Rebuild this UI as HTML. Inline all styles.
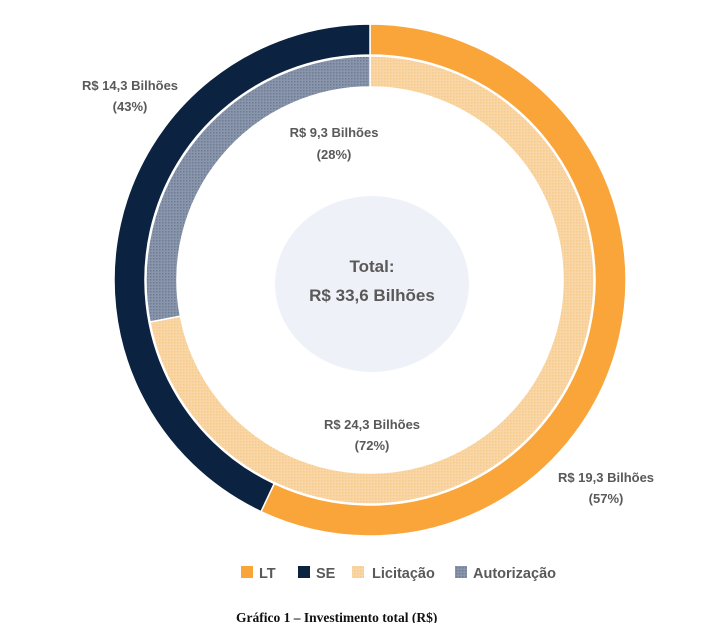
<!DOCTYPE html>
<html><head><meta charset="utf-8"><style>
body{margin:0;background:#fff;width:706px;height:623px;overflow:hidden}
text{font-family:"Liberation Sans",sans-serif;font-weight:bold;fill:#595959}
</style></head><body>
<svg width="706" height="623" viewBox="0 0 706 623" xmlns="http://www.w3.org/2000/svg">
<defs>
<pattern id="p1" width="3" height="3" patternUnits="userSpaceOnUse"><rect width="3" height="3" fill="#F9D6A6"/><rect width="1.5" height="1.5" fill="#F7C98A"/></pattern>
<pattern id="p2" width="3" height="3" patternUnits="userSpaceOnUse"><rect width="3" height="3" fill="#8895AB"/><rect width="1.5" height="1.5" fill="#6E7C95"/></pattern>
</defs>
<ellipse cx="372" cy="284" rx="97" ry="88" fill="#EEF2F8"/>
<g id="rings"></g>
</svg>
<script>
const cx=370,cy=280,g=document.getElementById('rings');
function arc(r1,r2,a0,a1,fill){
 const f=a=>[cx+Math.sin(a*Math.PI/180),cy-Math.cos(a*Math.PI/180)];
 const p=(r,a)=>{const q=f(a);return [cx+(q[0]-cx)*r,cy+(q[1]-cy)*r];};
 const L=(a1-a0)>180?1:0;
 const A=p(r1,a0),B=p(r1,a1),C=p(r2,a1),D=p(r2,a0);
 const e=document.createElementNS('http://www.w3.org/2000/svg','path');
 e.setAttribute('d',`M${A}A${r1},${r1} 0 ${L} 1 ${B}L${C}A${r2},${r2} 0 ${L} 0 ${D}Z`);
 e.setAttribute('fill',fill);e.setAttribute('stroke','#fff');e.setAttribute('stroke-width','1.5');
 g.appendChild(e);
}
arc(256,225,0,205.2,'#F9A53A');
arc(256,225,205.2,360,'#0B2240');
arc(224,193,0,259.2,'url(#p1)');
arc(224,193,259.2,360,'url(#p2)');
</script>
<svg width="706" height="623" style="position:absolute;left:0;top:0" xmlns="http://www.w3.org/2000/svg">
<g text-anchor="middle" font-size="13">
<text x="130" y="90">R$ 14,3 Bilhões</text>
<text x="130" y="111">(43%)</text>
<text x="334" y="137">R$ 9,3 Bilhões</text>
<text x="334" y="159">(28%)</text>
<text x="372" y="429">R$ 24,3 Bilhões</text>
<text x="372" y="450">(72%)</text>
<text x="606" y="482">R$ 19,3 Bilhões</text>
<text x="606" y="503">(57%)</text>
<text x="372" y="272" font-size="17">Total:</text>
<text x="372" y="301" font-size="17">R$ 33,6 Bilhões</text>
</g>
<g font-size="14.5">
<rect x="241" y="566" width="12" height="12" fill="#F9A53A"/><text x="259" y="578">LT</text>
<rect x="298" y="566" width="12" height="12" fill="#0B2240"/><text x="316" y="578">SE</text>
<rect x="352" y="566" width="12" height="12" fill="url(#p1)"/><text x="372" y="578">Licitação</text>
<rect x="455" y="566" width="12" height="12" fill="url(#p2)"/><text x="473" y="578">Autorização</text>
</g>
<text x="236" y="622" font-size="13.5" style="font-family:'Liberation Serif',serif;font-weight:bold;fill:#111">Gráfico 1 – Investimento total (R$)</text>
</svg>
</body></html>
